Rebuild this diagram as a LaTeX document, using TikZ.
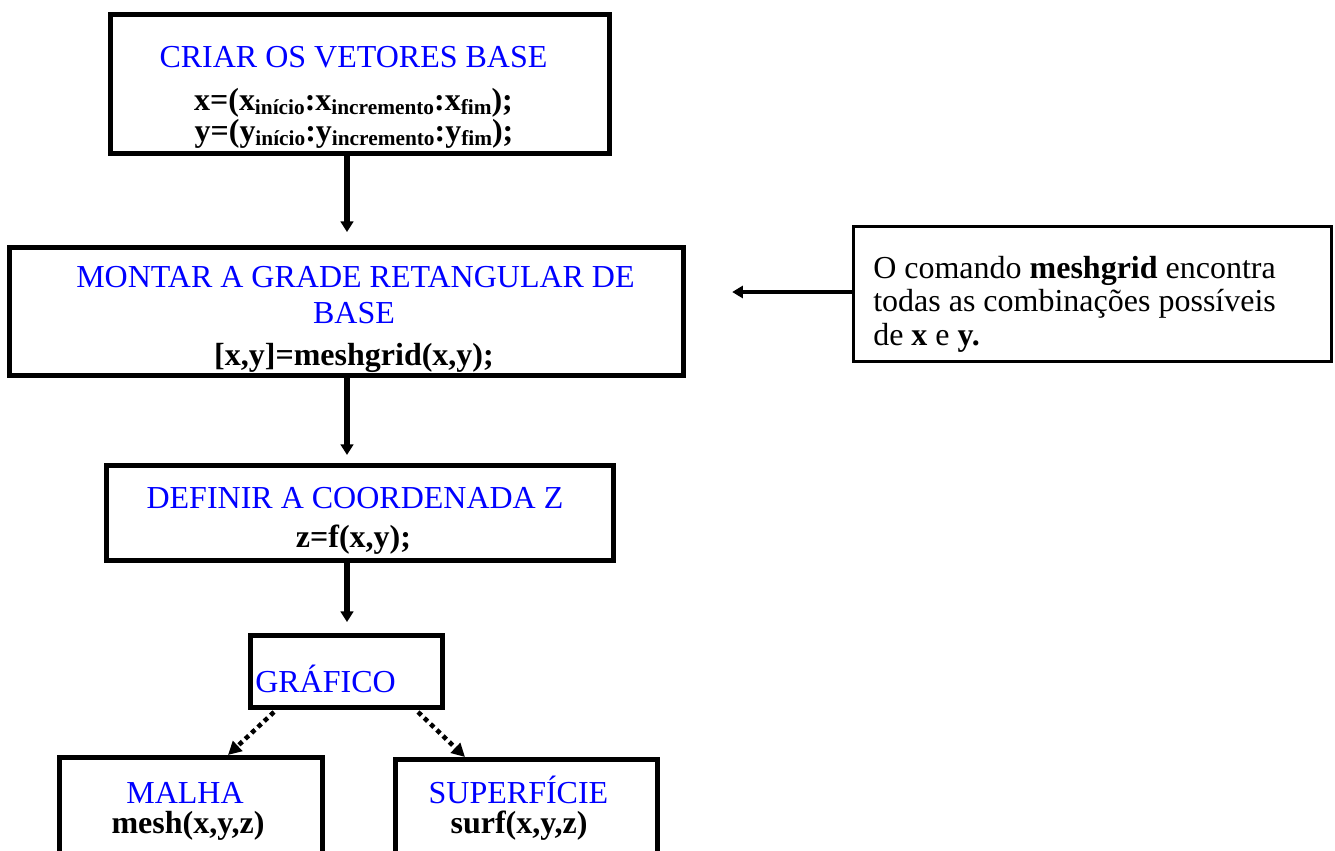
\documentclass[tikz,border=0pt]{standalone}
\usepackage{fontspec}
\setmainfont{Liberation Serif}
\usetikzlibrary{arrows.meta,calc}
\definecolor{tblue}{RGB}{0,0,255}
\newcommand\subb[1]{\raisebox{-3pt}{\fontsize{16}{16}\selectfont\bfseries #1}}
\begin{document}
\begin{tikzpicture}[x=0.75pt,y=-0.75pt,
  box/.style={draw, line width=3.75pt, inner sep=0pt, outer sep=0pt},
  nbox/.style={draw, line width=1.9pt, inner sep=0pt, outer sep=0pt},
  txt/.style={inner sep=0pt, anchor=base, font=\fontsize{24}{28}\selectfont},
  btxt/.style={txt, font=\fontsize{24}{28}\selectfont\bfseries},
  ttl/.style={txt, text=tblue},
  ltxt/.style={txt, anchor=base west},
  arr/.style={line width=3.9pt, -{Triangle[length=8pt,width=9.5pt]}},
  rarr/.style={line width=3.2pt, -{Triangle[length=8pt,width=9pt]}},
  darr/.style={line width=3.4pt, dash pattern=on 3.5pt off 3pt, -{Triangle[length=10pt,width=10pt]}}]
\useasboundingbox (0,0) rectangle (1335,850);
\fill[white] (0,0) rectangle (1335,850);
\clip (0,0) rectangle (1335,850);

% boxes
\node[box, minimum width=374.25pt, minimum height=104.25pt] (b1) at (360,84) {};
\node[box, minimum width=505.5pt, minimum height=96pt] (b2) at (346.5,311.5) {};
\node[box, minimum width=380.25pt, minimum height=71.25pt] (b3) at (360,513) {};
\node[box, minimum width=144pt, minimum height=54pt] (b4) at (346.5,671.5) {};
\node[box, minimum width=197.25pt, minimum height=91.875pt] (malha) at (191,818.75) {};
\node[box, minimum width=196.5pt, minimum height=90.375pt] (sup) at (526.5,819.75) {};
\node[nbox, minimum width=358.875pt, minimum height=101.625pt] (rb) at (1092.5,294) {};

% texts box 1
\node[ttl] (t1a) at (353.5,67) {CRIAR OS VETORES BASE};
\node[btxt] (t1b) at (353.5,110) {x=(x\subb{início}:x\subb{incremento}:x\subb{fim});};
\node[btxt] (t1c) at (354,141) {y=(y\subb{início}:y\subb{incremento}:y\subb{fim});};

% box 2
\node[ttl] (t2a) at (355.5,287) {MONTAR A GRADE RETANGULAR DE};
\node[ttl] (t2b) at (354,323) {BASE};
\node[btxt] (t2c) at (354,365) {[x,y]=meshgrid(x,y);};

% box 3
\node[ttl] (t3a) at (355,508) {DEFINIR A COORDENADA Z};
\node[btxt] (t3b) at (353.5,547) {z=f(x,y);};

% box 4
\node[ttl, anchor=base west] (t4) at (255,692) {GRÁFICO};

% bottom boxes
\node[ttl] (t5a) at (185,803) {MALHA};
\node[btxt] (t5b) at (188,833) {mesh(x,y,z)};
\node[ttl] (t6a) at (518.5,803) {SUPERFÍCIE};
\node[btxt] (t6b) at (519,833) {surf(x,y,z)};

% note box
\node[ltxt] (n1) at (873,278) {O comando \textbf{meshgrid} encontra};
\node[ltxt] (n2) at (873,311.5) {todas as combinações possíveis};
\node[ltxt] (n3) at (873,345) {de \textbf{x} e \textbf{y.}};

% connectors
\coordinate (ax) at (347,0);
\coordinate (ay) at (0,292);
\draw[arr, shorten >=11.6pt] (b1.south -| ax) -- (b2.north -| ax);
\draw[arr, shorten >=7.9pt] (b2.south -| ax) -- (b3.north -| ax);
\draw[arr, shorten >=10.1pt] (b3.south -| ax) -- (b4.north -| ax);
\draw[rarr, shorten >=36.5pt] (rb.west |- ay) -- (b2.east |- ay);
\draw[darr] ($(b4.south west)+(23.5,4.5)$) -- ($(malha.north west)+(168.5,-2.5)$);
\draw[darr] ($(b4.south east)+(-24.5,4.5)$) -- ($(sup.north west)+(69.5,-2.5)$);
\end{tikzpicture}
\end{document}
